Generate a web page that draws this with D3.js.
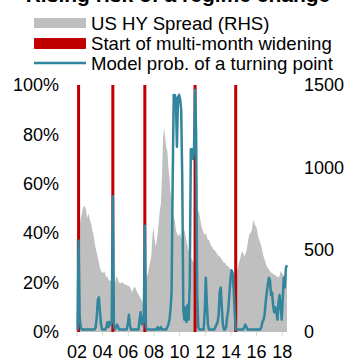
<!DOCTYPE html>
<html>
<head>
<meta charset="utf-8">
<script src="https://cdn.jsdelivr.net/npm/d3@7"></script>
<style>
    body { margin: 0; background: #fff; }
    svg { font-family: "Liberation Sans", Arial, sans-serif; }
</style>
</head>
<body>
<svg id="chart" width="346" height="362"></svg>
<script>
// monthly series, first value is Jan 2002
const firstMonth = '2002-01';

// US HY spread, bp (right axis)
const spreadBp = [
    560, 580, 590, 640, 690, 720, 750, 765, 760, 740,
    690, 720, 700, 670, 650, 610, 590, 540, 510, 480,
    450, 420, 390, 370, 360, 360, 370, 350, 330, 340,
    320, 310, 315, 300, 260, 240, 300, 330, 340, 310,
    300, 295, 300, 300, 295, 290, 285, 290, 280, 280,
    275, 260, 240, 260, 275, 270, 255, 240, 230, 215,
    205, 195, 175, 165, 200, 310, 340, 360, 395, 430,
    460, 580, 640, 570, 520, 550, 600, 670, 740, 780,
    950, 1180, 1240, 1180, 1120, 1100, 1000, 940, 850, 800,
    740, 700, 680, 620, 600, 580, 590, 600, 570, 560,
    600, 620, 590, 550, 520, 490, 470, 450, 440, 430,
    420, 450, 560, 700, 740, 720, 680, 640, 620, 600,
    590, 600, 580, 560, 560, 540, 520, 520, 500, 500,
    490, 480, 470, 460, 460, 450, 440, 430, 420, 420,
    410, 400, 400, 390, 380, 380, 370, 360, 350, 340,
    360, 390, 420, 440, 470, 490, 480, 460, 470, 490,
    530, 570, 600, 600, 620, 660, 680, 650, 640, 620,
    580, 560, 540, 520, 490, 460, 440, 420, 400, 390,
    380, 370, 360, 360, 350, 350, 345, 340, 335, 330,
    340, 370, 360, 350, 340, 350, 360, 350
];

// model probability of a turning point, % (left axis)
const turningProb = [
    1, 1, 37, 6, 2, 1, 1, 1, 1, 1,
    1, 1, 1, 1, 1, 1, 1, 1, 2, 6,
    13, 14, 8, 3, 1, 1, 1, 1, 2, 4,
    2, 4, 3, 5, 55, 3, 1, 2, 3, 2,
    1, 1, 1, 1, 1, 1, 1, 1, 3, 7,
    3, 1, 1, 1, 1, 1, 1, 1, 1, 5,
    8, 3, 6, 4, 43, 2, 1, 1, 1, 1,
    1, 1, 1, 1, 1, 1, 2, 1, 1, 2,
    1, 1, 1, 1, 1, 2, 3, 5, 9, 16,
    60, 96, 96, 94, 75, 95, 96, 94, 90, 62,
    9, 5, 10, 4, 11, 5, 20, 74, 74, 70,
    73, 98, 80, 15, 2, 1, 1, 1, 1, 1,
    8, 22, 12, 3, 1, 1, 1, 1, 1, 1,
    2, 3, 4, 7, 16, 18, 10, 3, 1, 1,
    2, 6, 9, 15, 21, 25, 24, 18, 9, 1,
    1, 1, 1, 1, 1, 1, 1, 2, 3, 2,
    1, 1, 1, 1, 1, 1, 1, 1, 1, 1,
    1, 1, 1, 2, 4, 5, 7, 12, 16, 19,
    22, 21, 15, 16, 11, 8, 10, 8, 5, 12,
    15, 10, 5, 14, 22, 18, 26, 27
];

// start of multi-month widening
const wideningStarts = ['2002-03', '2004-11', '2007-05', '2011-04', '2014-06'];

const probTicks = [0, 20, 40, 60, 80, 100];
const spreadTicks = [0, 500, 1000, 1500];
const legendLabels = ['US HY Spread (RHS)', 'Start of multi-month widening', 'Model prob. of a turning point'];
const titleText = 'Rising risk of a regime change';

const colors = {
    spread: '#bfbfbf',
    widening: '#c00000',
    prob: '#31859c'
};

const parseMonth = d3.timeParse('%Y-%m');
const start = parseMonth(firstMonth);
const data = spreadBp.map((s, i) => ({
    date: d3.timeMonth.offset(start, i),
    spread: s,
    prob: turningProb[i]
}));

const svg = d3.select('#chart');

const x = d3.scaleTime()
    .domain([new Date(2002, 0, 1), new Date(2018, 0, 1)])
    .range([76.5, 281.7]);

const yProb = d3.scaleLinear().domain([0, 100]).range([332, 85]);
const ySpread = d3.scaleLinear().domain([0, 1500]).range([332, 85]);

// title (cut off by the top edge in the original)
svg.append('text')
    .attr('x', 178)
    .attr('y', 1.5)
    .attr('text-anchor', 'middle')
    .attr('font-size', 21)
    .attr('font-weight', 'bold')
    .attr('fill', '#000')
    .text(titleText);

// legend
const legend = svg.append('g').attr('transform', 'translate(34,0)');
const legendRows = [23, 43.5, 63];

legend.append('rect')
    .attr('x', 0).attr('y', legendRows[0] - 5)
    .attr('width', 52).attr('height', 10)
    .attr('fill', colors.spread);
legend.append('rect')
    .attr('x', 0).attr('y', legendRows[1] - 5.5)
    .attr('width', 52).attr('height', 11)
    .attr('rx', 1)
    .attr('fill', colors.widening);
legend.append('line')
    .attr('x1', 0).attr('x2', 52)
    .attr('y1', legendRows[2]).attr('y2', legendRows[2])
    .attr('stroke', colors.prob)
    .attr('stroke-width', 2.5);

legend.selectAll('.legend-label')
    .data(legendLabels)
    .join('text')
    .attr('class', 'legend-label')
    .attr('x', 57)
    .attr('y', (d, i) => legendRows[i] + 6.5)
    .attr('font-size', 18.6)
    .attr('fill', '#000')
    .text(d => d);

// grey area for the spread
const area = d3.area()
    .x(d => x(d.date))
    .y0(ySpread(0))
    .y1(d => ySpread(d.spread));

svg.append('path')
    .datum(data)
    .attr('d', area)
    .attr('fill', colors.spread);

// red bars for widening starts
svg.selectAll('.widening')
    .data(wideningStarts.map(parseMonth))
    .join('line')
    .attr('class', 'widening')
    .attr('x1', d => x(d))
    .attr('x2', d => x(d))
    .attr('y1', yProb(0))
    .attr('y2', yProb(100))
    .attr('stroke', colors.widening)
    .attr('stroke-width', 3);

// model probability line
const line = d3.line()
    .x(d => x(d.date))
    .y(d => yProb(d.prob));

svg.append('path')
    .datum(data)
    .attr('d', line)
    .attr('fill', 'none')
    .attr('stroke', colors.prob)
    .attr('stroke-width', 2.5)
    .attr('stroke-linejoin', 'round');

// axes
const leftAxis = svg.append('g')
    .attr('transform', 'translate(62,0)')
    .call(d3.axisLeft(yProb).tickValues(probTicks).tickSize(0).tickPadding(3).tickFormat(d => d + '%'));

const rightAxis = svg.append('g')
    .attr('transform', 'translate(301,0)')
    .call(d3.axisRight(ySpread).tickValues(spreadTicks).tickSize(0).tickPadding(3).tickFormat(d => String(d)));

const bottomAxis = svg.append('g')
    .attr('transform', `translate(0,${yProb(0)})`)
    .call(d3.axisBottom(x).ticks(d3.timeYear.every(2)).tickSize(4).tickPadding(9).tickFormat(d3.timeFormat('%y')));

for (const ax of [leftAxis, rightAxis, bottomAxis]) {
    ax.select('.domain').remove();
    ax.selectAll('text')
        .attr('font-size', 18)
        .attr('font-family', '"Liberation Sans", Arial, sans-serif')
        .attr('fill', '#000');
}
bottomAxis.selectAll('.tick line').attr('stroke', '#d9d9d9');
</script>
</body>
</html>
